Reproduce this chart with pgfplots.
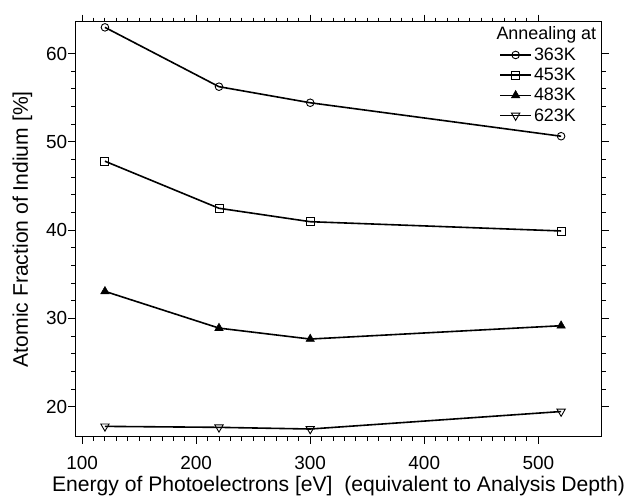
\documentclass[border=0pt]{standalone}
\usepackage{fontspec}
\setmainfont{Liberation Sans}
\usepackage{pgfplots}
\pgfplotsset{compat=1.18}
\begin{document}
\begin{tikzpicture}
\begin{axis}[
  scale only axis,
  width=526.4bp, height=415bp,
  at={(0,0)}, anchor=south west,
  xmin=94, xmax=555.6, ymin=16.6, ymax=63.6,
  xtick={100,200,300,400,500},
  ytick={20,30,40,50,60},
  minor x tick num=9,
  minor y tick num=4,
  tick align=outside,
  major tick length=7bp,
  minor tick length=4bp,
  every tick/.style={line width=0.9bp, black},
  axis line style={line width=1.1bp},
  /pgf/number format/assume math mode=true,
  tick label style={font=\fontsize{19}{19}\selectfont},
  xticklabel style={yshift=-9bp},
  yticklabel style={xshift=2.5bp},
  label style={font=\fontsize{21.2}{21.2}\selectfont},
  xlabel={Energy of Photoelectrons [eV]\ \ (equivalent to Analysis Depth)},
  ylabel={Atomic Fraction of Indium [\%]},
  xlabel style={at={(axis description cs:0.5,0)}, anchor=base, yshift=-55bp},
  ylabel style={at={(axis description cs:0,0.5)}, anchor=center, yshift=53bp},
  legend style={draw=none, fill=none, font=\fontsize{18}{18}\selectfont,
    at={(axis description cs:0.805,0.942)}, anchor=north west,
    row sep=2.2bp, inner sep=0pt},
  legend cell align=left,
  legend image code/.code={\draw[mark repeat=2,mark phase=2] plot coordinates {(0cm,0cm) (0.55cm,0cm) (1.1cm,0cm)};},
  every axis plot/.append style={black, line width=1.6bp},
]
\addplot[mark=o, mark size=3.8bp, mark options={line width=0.9bp}] coordinates {(120,62.96) (220,56.24) (300,54.42) (520,50.63)};
\addlegendentry{363K}
\addplot[mark=square, mark size=4bp, mark options={line width=0.9bp}] coordinates {(120,47.8) (220,42.47) (300,40.95) (520,39.9)};
\addlegendentry{453K}
\addplot[mark=triangle*, mark size=4.8bp, mark options={line width=0.6bp}] coordinates {(120,33.06) (220,28.9) (300,27.66) (520,29.17)};
\addlegendentry{483K}
\addplot[mark=triangle, mark size=4.8bp, mark options={rotate=180, line width=0.9bp}] coordinates {(120,17.77) (220,17.66) (300,17.47) (520,19.45)};
\addlegendentry{623K}
\node[anchor=east, font=\fontsize{18}{18}\selectfont, inner sep=0pt] at (axis description cs:0.99,0.968) {Annealing at};
\end{axis}
\pgfresetboundingbox
\path[use as bounding box] (-75.3bp,-60.3bp) rectangle (556.7bp,436.7bp);
\end{tikzpicture}
\end{document}
